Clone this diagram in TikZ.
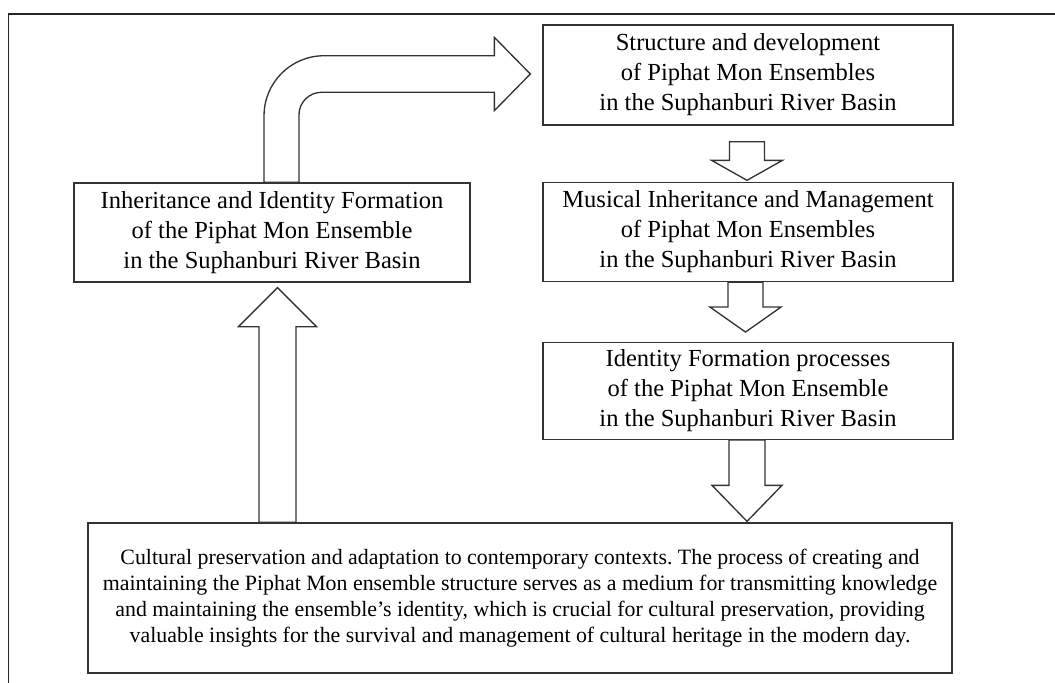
\documentclass[tikz,border=0pt]{standalone}
\usepackage{fontspec}
\setmainfont{Liberation Serif}
\usetikzlibrary{calc}
\frenchspacing

\begin{document}
\begin{tikzpicture}[x=0.75pt,y=-0.75pt,
                    box/.style={draw=black!80,line width=1pt,fill=white,align=center,
                                inner sep=0pt,font=\fontsize{18.4}{22.5}\selectfont},
                    blk/.style={draw=black!80,line width=1pt,fill=white,line join=miter}]
                              \useasboundingbox (0,0) rectangle (1055,682);

                              % Frame
                              \draw[black!85,line width=1.3pt] (8.5,690) -- (8.5,14) -- (1065,14);

                              % Boxes
                              \node[box,minimum width=307.5pt,minimum height=75pt] (struct) at (748,75)
                              {Structure and development\\of Piphat Mon Ensembles\\in the Suphanburi River Basin};
                              \node[box,minimum width=307.5pt,minimum height=74.25pt] (music) at (748,232)
                              {Musical Inheritance and Management\\of Piphat Mon Ensembles\\in the Suphanburi River Basin};
                              \node[box,minimum width=307.5pt,minimum height=72.4pt] (ident) at (748,391)
                              {Identity Formation processes\\of the Piphat Mon Ensemble\\in the Suphanburi River Basin};
                              \node[box,minimum width=297pt,minimum height=74.25pt] (inherit) at (272,232.5)
                              {Inheritance and Identity Formation\\of the Piphat Mon Ensemble\\in the Suphanburi River Basin};
                              \node[box,minimum width=648pt,minimum height=112.5pt,
                                    font=\fontsize{16.4}{19.4}\selectfont] (preserve) at (520,598)
                              {Cultural preservation and adaptation to contemporary contexts. The process of creating and\\
                               maintaining the Piphat Mon ensemble structure serves as a medium for transmitting knowledge\\
                               and maintaining the ensemble's identity, which is crucial for cultural preservation, providing\\
                               valuable insights for the survival and management of cultural heritage in the modern day.};

                              % Down arrows
                              \draw[blk] let \p1=($(struct.south)+(-1,16)$), \p2=($(music.north)+(-1,-1.5)$) in
                              (\x1-13.1pt,\y1) |- (\x1-26.6pt,\y2+15pt) -- (\x2,\y2)
                              -- (\x1+26.6pt,\y2+15pt) -| (\x1+13.1pt,\y1) -- cycle;
                              \draw[blk] let \p1=($(music.south)+(-2.5,0)$), \p2=($(ident.north)+(-2.5,-10)$) in
                              (\x1-13.1pt,\y1) |- (\x1-26.6pt,\y2+18.75pt) -- (\x2,\y2)
                              -- (\x1+26.6pt,\y2+18.75pt) -| (\x1+13.1pt,\y1) -- cycle;
                              \draw[blk] let \p1=($(ident.south)+(-1,0)$), \p2=($(ident.south |- preserve.north)+(-1,-1)$) in
                              (\x1-13.5pt,\y1) |- (\x1-26.25pt,\y2+27pt) -- (\x2,\y2)
                              -- (\x1+26.25pt,\y2+27pt) -| (\x1+13.5pt,\y1) -- cycle;

                              % Up arrow
                              \draw[blk] let \p1=($(inherit.south |- preserve.north)+(5.5,0)$), \p2=($(inherit.south)+(5.5,5)$) in
                              (\x1-13.9pt,\y1) |- (\x1-29.25pt,\y2-29.25pt) -- (\x2,\y2)
                              -- (\x1+29.25pt,\y2-29.25pt) -| (\x1+13.9pt,\y1) -- cycle;

                              % Bent arrow
                              \draw[blk] let \p1=($(inherit.north)+(9.5,0)$), \p2=($(struct.west)+(-12,-1)$) in
                              (\x1-13.1pt,\y1) -- (\x1-13.1pt,\y2+13.7pt-45pt)
                              arc[start angle=180,end angle=90,radius=45pt]
                              -- (\x2-27pt,\y2+13.7pt) -- (\x2-27pt,\y2+27.5pt) -- (\x2,\y2)
                              -- (\x2-27pt,\y2-27.5pt) -- (\x2-27pt,\y2-13.7pt)
                              -- (\x1+30.1pt,\y2-13.7pt)
                              arc[start angle=90,end angle=180,radius=17pt]
                              -- (\x1+13.1pt,\y1) -- cycle;
                        \end{tikzpicture}
\end{document}
